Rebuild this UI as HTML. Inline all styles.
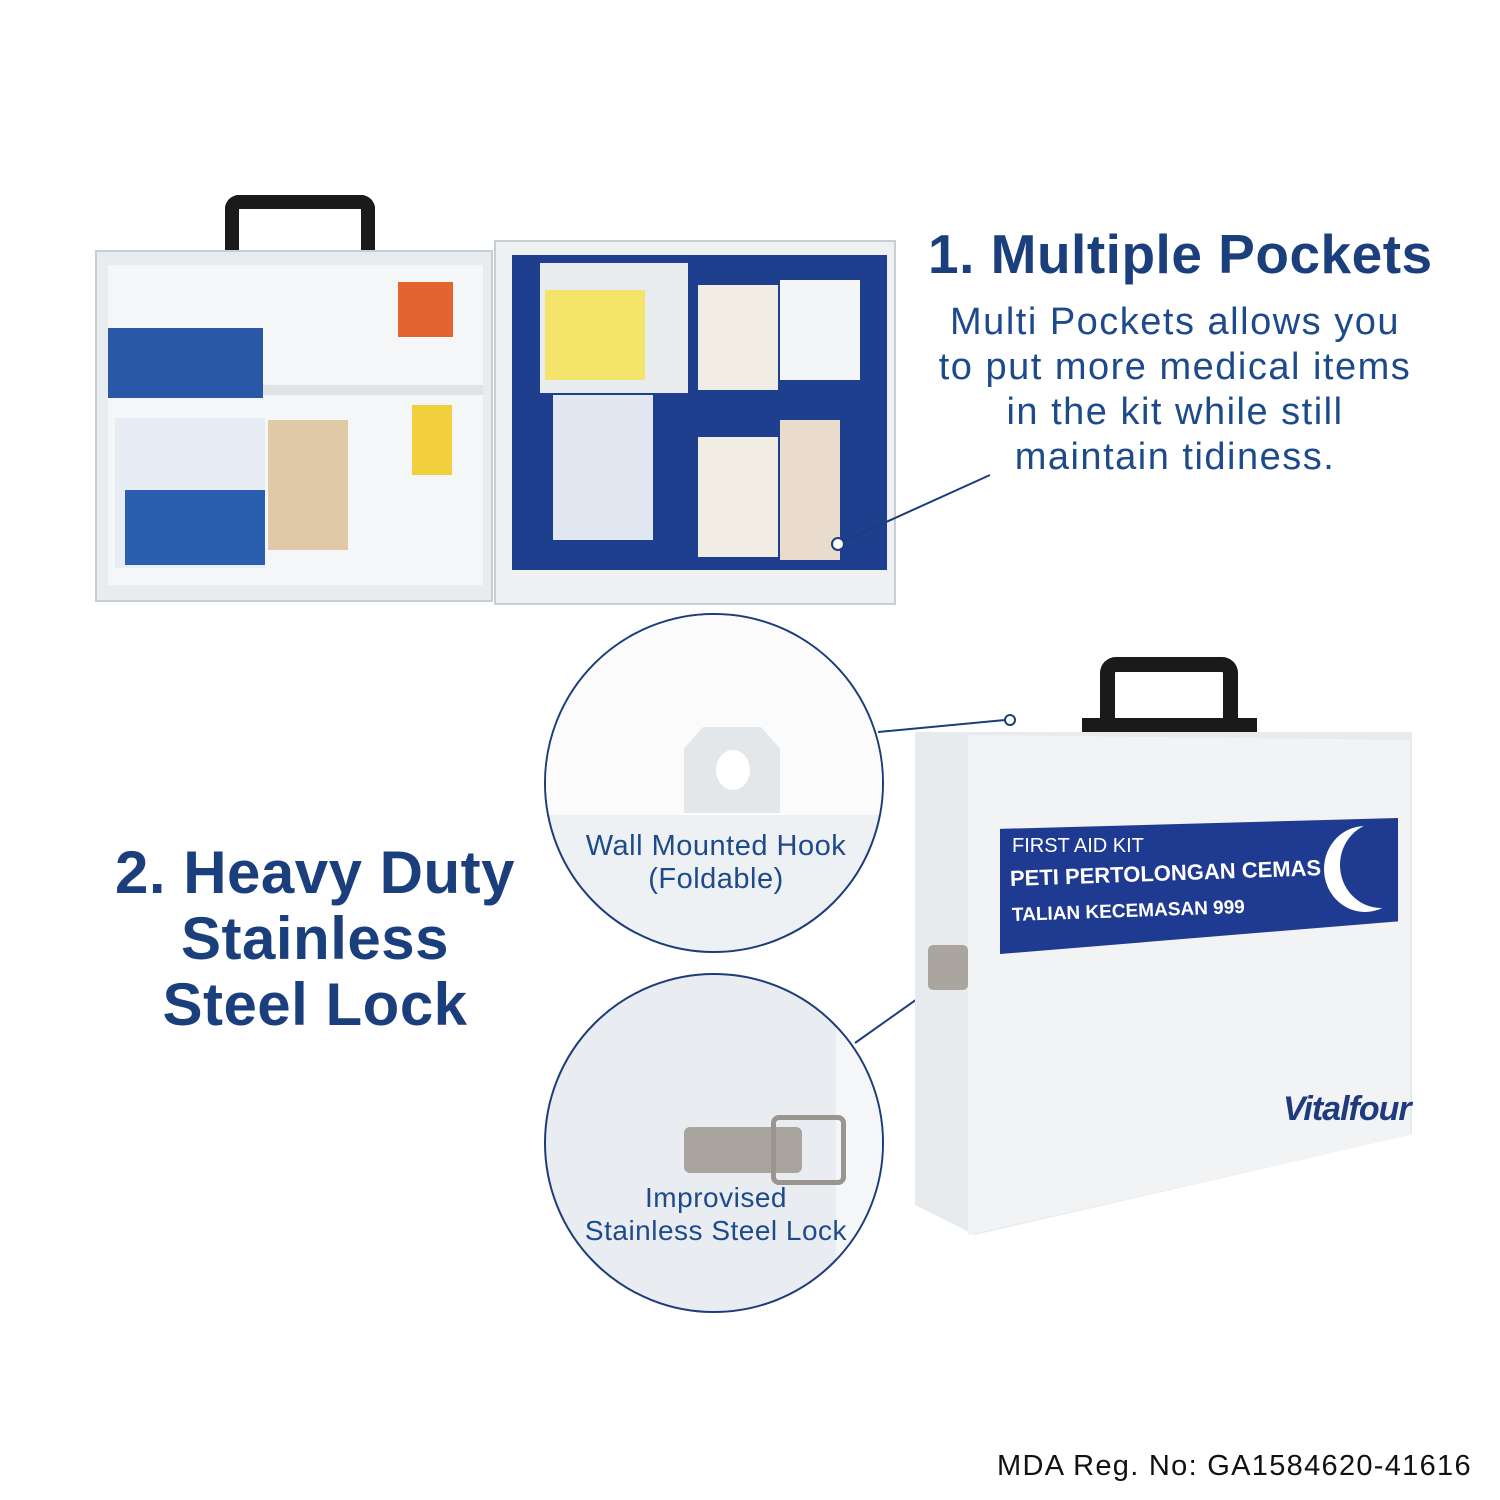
<!DOCTYPE html>
<html><head><meta charset="utf-8"><style>
html,body{margin:0;padding:0;background:#fff;}
body{width:1500px;height:1500px;position:relative;overflow:hidden;font-family:"Liberation Sans",sans-serif;}
.a{position:absolute;}
.h{color:#1b3f7c;font-weight:900;}
.p{color:#1d4a8a;font-size:38px;text-align:center;line-height:45px;letter-spacing:1.5px;}
</style></head><body>

<!-- open cabinet -->
<div class="a" style="left:225px;top:195px;width:150px;height:60px;border:14px solid #1a1a1a;border-bottom:none;border-radius:14px 14px 0 0;box-sizing:border-box;"></div>
<div class="a" style="left:95px;top:250px;width:398px;height:352px;background:#e9ecef;border:2px solid #c9ced3;box-sizing:border-box;"></div>
<div class="a" style="left:108px;top:265px;width:375px;height:320px;background:#f5f6f7;"></div>
<div class="a" style="left:108px;top:385px;width:375px;height:10px;background:#dfe3e6;"></div>
<div class="a" style="left:108px;top:328px;width:155px;height:70px;background:#2a58a6;"></div>
<div class="a" style="left:398px;top:282px;width:55px;height:55px;background:#e3642e;"></div>
<div class="a" style="left:115px;top:418px;width:150px;height:150px;background:#e8edf5;"></div>
<div class="a" style="left:125px;top:490px;width:140px;height:75px;background:#2a5fb0;"></div>
<div class="a" style="left:268px;top:420px;width:80px;height:130px;background:#e0c9a6;"></div>
<div class="a" style="left:412px;top:405px;width:40px;height:70px;background:#f2cf3c;"></div>
<!-- door -->
<div class="a" style="left:494px;top:240px;width:402px;height:365px;background:#eef0f2;border:2px solid #c9ced3;box-sizing:border-box;"></div>
<div class="a" style="left:512px;top:255px;width:375px;height:315px;background:#1e3f8e;"></div>
<div class="a" style="left:540px;top:263px;width:148px;height:130px;background:#e8ecef;"></div>
<div class="a" style="left:545px;top:290px;width:100px;height:90px;background:#f4e46a;"></div>
<div class="a" style="left:553px;top:395px;width:100px;height:145px;background:#e2e8f2;"></div>
<div class="a" style="left:698px;top:285px;width:80px;height:105px;background:#f1ece4;"></div>
<div class="a" style="left:780px;top:280px;width:80px;height:100px;background:#f4f5f7;"></div>
<div class="a" style="left:698px;top:437px;width:80px;height:120px;background:#f1ece4;"></div>
<div class="a" style="left:780px;top:420px;width:60px;height:140px;background:#e9dccd;"></div>

<!-- headings -->
<div class="a h" style="left:928px;top:222px;font-size:55px;white-space:nowrap;letter-spacing:0.5px;">1. Multiple Pockets</div>
<div class="a p" style="left:875px;top:300px;width:600px;">Multi Pockets allows you<br>to put more medical items<br>in the kit while still<br>maintain tidiness.</div>
<div class="a h" style="left:40px;top:840px;width:550px;font-size:60px;text-align:center;line-height:66px;letter-spacing:0.5px;">2. Heavy Duty<br>Stainless<br>Steel Lock</div>

<!-- connector lines -->
<svg class="a" style="left:0;top:0" width="1500" height="1500">
<line x1="990" y1="475" x2="842" y2="542" stroke="#1d3d7a" stroke-width="2"/>
<circle cx="838" cy="544" r="6" fill="#fff" stroke="#1d3d7a" stroke-width="2"/>
<line x1="878" y1="732" x2="1005" y2="720" stroke="#1d3d7a" stroke-width="2"/>
<circle cx="1010" cy="720" r="5" fill="#fff" stroke="#1d3d7a" stroke-width="2"/>
<line x1="855" y1="1043" x2="958" y2="970" stroke="#1d3d7a" stroke-width="2"/>
<circle cx="961" cy="968" r="5" fill="#fff" stroke="#1d3d7a" stroke-width="2"/>
</svg>

<!-- circle 1 -->
<div class="a" style="left:544px;top:613px;width:340px;height:340px;border-radius:50%;border:2px solid #1d3d7a;box-sizing:border-box;overflow:hidden;background:#eef1f4;">
  <div class="a" style="left:0;top:0;width:340px;height:200px;background:#fbfbfc;"></div>
  <div class="a" style="left:138px;top:112px;width:96px;height:86px;background:#e4e7ea;clip-path:polygon(20% 0,80% 0,100% 25%,100% 100%,0 100%,0 25%);"></div>
  <div class="a" style="left:170px;top:135px;width:34px;height:40px;background:#fff;border-radius:50%;"></div>
  <div class="a" style="left:-10px;top:215px;width:360px;text-align:center;color:#1d4a8a;font-size:29px;line-height:33px;letter-spacing:0.5px;">Wall Mounted Hook<br>(Foldable)</div>
</div>
<!-- circle 2 -->
<div class="a" style="left:544px;top:973px;width:340px;height:340px;border-radius:50%;border:2px solid #1d3d7a;box-sizing:border-box;overflow:hidden;background:#e9edf1;">
  <div class="a" style="left:290px;top:0;width:60px;height:340px;background:#f5f6f7;"></div>
  <div class="a" style="left:138px;top:152px;width:118px;height:46px;background:#a9a49e;border-radius:6px;"></div>
  <div class="a" style="left:225px;top:140px;width:75px;height:70px;border:5px solid #9a968f;border-radius:8px;box-sizing:border-box;"></div>
  <div class="a" style="left:-10px;top:206px;width:360px;text-align:center;color:#1d4a8a;font-size:28px;line-height:33px;letter-spacing:0.5px;">Improvised<br>Stainless Steel Lock</div>
</div>

<!-- closed box -->
<div class="a" style="left:1100px;top:657px;width:138px;height:85px;border:15px solid #1a1a1a;border-bottom:none;border-radius:16px 16px 0 0;box-sizing:border-box;"></div>
<div class="a" style="left:1082px;top:718px;width:175px;height:20px;background:#1a1a1a;"></div>
<div class="a" style="left:915px;top:732px;width:497px;height:503px;background:#e8ebee;clip-path:polygon(0 0,100% 0,100% 80%,12% 100%,0 94%);"></div>
<div class="a" style="left:968px;top:735px;width:442px;height:500px;background:#f2f3f5;clip-path:polygon(0 0,100% 1%,100% 80%,0 100%);"></div>
<div class="a" style="left:1000px;top:818px;width:398px;height:136px;background:#1f3a91;clip-path:polygon(0 8%,100% 0,100% 76%,0 100%);overflow:hidden;">
  <div class="a" style="left:324px;top:8px;width:82px;height:86px;border-radius:50%;background:#fff;"></div>
  <div class="a" style="left:340px;top:4px;width:82px;height:86px;border-radius:50%;background:#1f3a91;"></div>
</div>
<div class="a" style="left:1012px;top:835px;color:#fff;font-size:20px;">FIRST AID KIT</div>
<div class="a" style="left:1010px;top:866px;color:#fff;font-size:22px;font-weight:bold;transform:rotate(-2deg);transform-origin:left;">PETI PERTOLONGAN CEMAS</div>
<div class="a" style="left:1012px;top:905px;color:#fff;font-size:19px;font-weight:bold;transform:rotate(-2deg);transform-origin:left;">TALIAN KECEMASAN 999</div>
<div class="a" style="left:928px;top:945px;width:40px;height:45px;background:#aaa59f;border-radius:5px;"></div>
<div class="a" style="left:1283px;top:1090px;color:#1f3a7e;font-size:34px;font-weight:bold;font-style:italic;letter-spacing:-1px;">Vitalfour</div>

<div class="a" style="left:997px;top:1450px;font-size:29px;color:#111;letter-spacing:1.3px;white-space:nowrap;">MDA Reg. No: GA1584620-41616</div>
</body></html>
